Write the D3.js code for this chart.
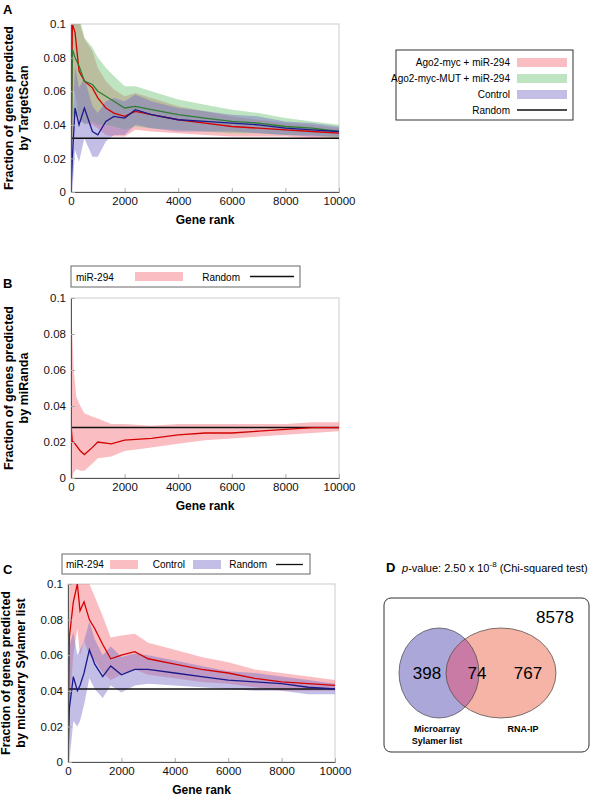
<!DOCTYPE html><html><head><meta charset="utf-8"><script src="https://cdn.jsdelivr.net/npm/d3@7"></script>
<style>body{margin:0;background:#fff}text{font-family:Arial,"Liberation Sans",sans-serif}</style></head><body>
<svg id="c" width="596" height="800"></svg>
<script>
// Panel A
const aX=[0,50,150,300,500,800,1000,1300,1600,2000,2400,3000,4000,5000,6000,7000,8000,9000,10000];
const aRed=[0,0.1,0.095,0.072,0.066,0.062,0.056,0.05,0.047,0.045,0.048,0.046,0.043,0.041,0.039,0.038,0.037,0.036,0.035];
const aRedW=[0,0.04,0.035,0.03,0.025,0.022,0.018,0.016,0.014,0.012,0.011,0.01,0.008,0.007,0.006,0.005,0.004,0.004,0.003];
const aGreen=[0,0.085,0.08,0.075,0.066,0.064,0.06,0.057,0.054,0.05,0.051,0.049,0.046,0.044,0.042,0.041,0.039,0.038,0.036];
const aGreenW=[0,0.04,0.035,0.03,0.026,0.022,0.02,0.017,0.015,0.013,0.012,0.011,0.009,0.008,0.007,0.006,0.005,0.004,0.004];
const aBlue=[0,0.02,0.05,0.04,0.05,0.036,0.034,0.042,0.045,0.044,0.049,0.046,0.043,0.042,0.041,0.04,0.038,0.037,0.036];
const aBlueW=[0,0.02,0.025,0.022,0.018,0.015,0.013,0.012,0.011,0.01,0.009,0.008,0.007,0.006,0.005,0.005,0.004,0.004,0.003];
const aRandom=0.032;
const aLegend=["Ago2-myc + miR-294","Ago2-myc-MUT + miR-294","Control","Random"];
// Panel B
const bX=[0,50,100,200,350,500,800,1000,1500,2000,3000,4000,5000,6000,7000,8000,9000,10000];
const bRed=[0.03,0.02,0.02,0.018,0.015,0.013,0.017,0.02,0.019,0.021,0.022,0.024,0.025,0.025,0.026,0.027,0.028,0.028];
const bRedHi=[0.1,0.08,0.06,0.045,0.04,0.036,0.034,0.033,0.03,0.03,0.029,0.03,0.03,0.03,0.03,0.03,0.031,0.031];
const bRedLo=[0,0,0.003,0.005,0.004,0.004,0.008,0.011,0.012,0.015,0.017,0.019,0.021,0.022,0.023,0.024,0.025,0.026];
const bRandom=0.028;
// Panel C
const cX=[0,50,200,350,450,600,800,1000,1300,1600,2000,2500,3000,4000,5000,6000,7000,8000,9000,10000];
const cRed=[0,0.07,0.09,0.1,0.085,0.09,0.08,0.075,0.066,0.058,0.06,0.062,0.058,0.055,0.052,0.05,0.047,0.045,0.044,0.043];
const cRedW=[0,0.04,0.03,0.025,0.025,0.022,0.02,0.018,0.016,0.012,0.011,0.01,0.009,0.008,0.007,0.006,0.005,0.005,0.004,0.003];
const cBlue=[0,0.03,0.048,0.04,0.043,0.05,0.063,0.055,0.048,0.054,0.049,0.052,0.052,0.05,0.048,0.046,0.045,0.044,0.042,0.041];
const cBlueW=[0,0.035,0.025,0.02,0.02,0.018,0.016,0.014,0.012,0.011,0.01,0.009,0.008,0.007,0.006,0.005,0.005,0.004,0.004,0.003];
const cRandom=0.041;
// Venn
const vennNums=[398,74,767,8578];
const vennLabels=["Microarray","Sylamer list","RNA-IP"];

const svg=d3.select("#c");
const col={red:"#d40000",green:"#2e7d32",blue:"#1a1a8c"};
const fill={red:"rgba(245,110,120,0.45)",green:"rgba(100,190,110,0.42)",blue:"rgba(120,110,200,0.45)"};

function panel(o){
  const x=d3.scaleLinear([0,10000],[o.x0,o.x1]);
  const y=d3.scaleLinear([0,0.1],[o.y1,o.y0]);
  const g=svg.append("g");
  g.append("rect").attr("x",o.x0).attr("y",o.y0).attr("width",o.x1-o.x0).attr("height",o.y1-o.y0).attr("fill","none").attr("stroke","#ccc");
  const clip="cl"+o.id;
  g.append("clipPath").attr("id",clip).append("rect").attr("x",o.x0).attr("y",o.y0).attr("width",o.x1-o.x0).attr("height",o.y1-o.y0);
  const pg=g.append("g").attr("clip-path",`url(#${clip})`);
  o.series.forEach(s=>{
    const area=d3.area().x((d,i)=>x(o.xs[i])).y0((d,i)=>y(s.lo[i])).y1((d,i)=>y(s.hi[i]));
    pg.append("path").attr("d",area(s.m)).attr("fill",fill[s.c]);
  });
  pg.append("line").attr("x1",x(0)).attr("x2",x(10000)).attr("y1",y(o.rand)).attr("y2",y(o.rand)).attr("stroke","#111").attr("stroke-width",1.5);
  o.series.forEach(s=>{
    const line=d3.line().x((d,i)=>x(o.xs[i])).y(d=>y(d));
    pg.append("path").attr("d",line(s.m)).attr("fill","none").attr("stroke",col[s.c]).attr("stroke-width",1.3);
  });
  const ax=g.append("g").attr("transform",`translate(0,${o.y1})`).call(d3.axisBottom(x).tickValues([0,2000,4000,6000,8000,10000]).tickSize(-4).tickSizeOuter(0).tickPadding(5).tickFormat(d3.format("d")));
  const ay=g.append("g").attr("transform",`translate(${o.x0},0)`).call(d3.axisLeft(y).tickValues([0,0.02,0.04,0.06,0.08,0.1]).tickSize(-4).tickSizeOuter(0).tickPadding(5).tickFormat(d=>d===0?"0":d===0.1?"0.1":d3.format(".2f")(d)));
  [ax,ay].forEach(a=>{a.selectAll("text").attr("font-size",11.5).attr("fill","#111");a.selectAll("line").attr("stroke","#aaa");a.select(".domain").attr("stroke","#555");});
  g.append("text").attr("x",(o.x0+o.x1)/2).attr("y",o.y1+32).attr("text-anchor","middle").attr("font-size",12).attr("font-weight","bold").text("Gene rank");
  const cy=(o.y0+o.y1)/2;
  const t=g.append("text").attr("transform",`translate(${o.x0-51},${cy}) rotate(-90)`).attr("text-anchor","middle").attr("font-size",12.5).attr("font-weight","bold");
  t.append("tspan").attr("x",0).attr("dy",-7).text("Fraction of genes predicted");
  t.append("tspan").attr("x",0).attr("dy",15).text(o.ylab);
  g.append("text").attr("x",3).attr("y",o.y0-10).attr("font-size",13).attr("font-weight","bold").text(o.id);
}
const band=(m,w)=>({lo:m.map((v,i)=>Math.max(0,v-w[i])),hi:m.map((v,i)=>v+w[i])});
panel({id:"A",x0:71,x1:339,y0:24,y1:192,xs:aX,rand:aRandom,ylab:"by TargetScan",series:[
  {c:"red",m:aRed,...band(aRed,aRedW)},{c:"green",m:aGreen,...band(aGreen,aGreenW)},{c:"blue",m:aBlue,...band(aBlue,aBlueW)}]});
panel({id:"B",x0:71,x1:339,y0:298,y1:478,xs:bX,rand:bRandom,ylab:"by miRanda",series:[{c:"red",m:bRed,lo:bRedLo,hi:bRedHi}]});
panel({id:"C",x0:68,x1:335,y0:584,y1:762,xs:cX,rand:cRandom,ylab:"by microarry Sylamer list",series:[
  {c:"red",m:cRed,...band(cRed,cRedW)},{c:"blue",m:cBlue,...band(cBlue,cBlueW)}]});

// Legend A
const la=svg.append("g");
la.append("rect").attr("x",396).attr("y",50).attr("width",177).attr("height",70).attr("fill","#fff").attr("stroke","#333");
aLegend.forEach((t,i)=>{
  const yy=62+i*16;
  la.append("text").attr("x",510).attr("y",yy+4).attr("text-anchor","end").attr("font-size",10).text(t);
  if(i<3) la.append("rect").attr("x",517).attr("y",yy-4).attr("width",50).attr("height",9).attr("fill",fill[["red","green","blue"][i]]);
  else la.append("line").attr("x1",517).attr("x2",567).attr("y1",yy).attr("y2",yy).attr("stroke","#111").attr("stroke-width",1.3);
});
// Legend B
const lb=svg.append("g");
lb.append("rect").attr("x",71).attr("y",266).attr("width",229).attr("height",21).attr("fill","#fff").attr("stroke","#666");
lb.append("text").attr("x",76).attr("y",281).attr("font-size",10).text("miR-294");
lb.append("rect").attr("x",135).attr("y",272).attr("width",48).attr("height",9).attr("fill",fill.red);
lb.append("text").attr("x",240).attr("y",281).attr("text-anchor","end").attr("font-size",10).text("Random");
lb.append("line").attr("x1",250).attr("x2",294).attr("y1",276.5).attr("y2",276.5).attr("stroke","#111").attr("stroke-width",1.3);
// Legend C
const lc=svg.append("g");
lc.append("rect").attr("x",62).attr("y",554).attr("width",248).attr("height",20).attr("fill","#fff").attr("stroke","#666");
lc.append("text").attr("x",66).attr("y",568).attr("font-size",10).text("miR-294");
lc.append("rect").attr("x",110).attr("y",560).attr("width",28).attr("height",9).attr("fill",fill.red);
lc.append("text").attr("x",185).attr("y",568).attr("text-anchor","end").attr("font-size",10).text("Control");
lc.append("rect").attr("x",193).attr("y",560).attr("width",28).attr("height",9).attr("fill",fill.blue);
lc.append("text").attr("x",267).attr("y",568).attr("text-anchor","end").attr("font-size",10).text("Random");
lc.append("line").attr("x1",276).attr("x2",303).attr("y1",564.5).attr("y2",564.5).attr("stroke","#111").attr("stroke-width",1.3);
// Panel D
const d=svg.append("g");
d.append("text").attr("x",386).attr("y",572).attr("font-size",13).attr("font-weight","bold").text("D");
const pt=d.append("text").attr("x",402).attr("y",572).attr("font-size",11);
pt.append("tspan").attr("font-style","italic").text("p");
pt.append("tspan").text("-value: 2.50 x 10");
pt.append("tspan").attr("dy",-5).attr("font-size",8).text("-8");
pt.append("tspan").attr("dy",5).text(" (Chi-squared test)");
d.append("rect").attr("x",384).attr("y",598).attr("width",205).attr("height",154).attr("rx",7).attr("fill","#fff").attr("stroke","#333");
const L={cx:439,cy:673,rx:40,ry:45}, R={cx:501,cy:673,rx:55,ry:45};
d.append("clipPath").attr("id","clipL").append("ellipse").attr("cx",L.cx).attr("cy",L.cy).attr("rx",L.rx).attr("ry",L.ry);
d.append("ellipse").attr("cx",L.cx).attr("cy",L.cy).attr("rx",L.rx).attr("ry",L.ry).attr("fill","#aba7d9");
d.append("ellipse").attr("cx",R.cx).attr("cy",R.cy).attr("rx",R.rx).attr("ry",R.ry).attr("fill","#f6b4a6");
d.append("ellipse").attr("clip-path","url(#clipL)").attr("cx",R.cx).attr("cy",R.cy).attr("rx",R.rx).attr("ry",R.ry).attr("fill","#c97ba6");
[L,R].forEach(e=>d.append("ellipse").attr("cx",e.cx).attr("cy",e.cy).attr("rx",e.rx).attr("ry",e.ry).attr("fill","none").attr("stroke","#444").attr("stroke-width",0.7));
[[427,vennNums[0]],[477,vennNums[1]],[528,vennNums[2]]].forEach(([xx,n])=>d.append("text").attr("x",xx).attr("y",679).attr("text-anchor","middle").attr("font-size",17).attr("font-family","DejaVu Sans").text(n));
d.append("text").attr("x",555).attr("y",623).attr("text-anchor","middle").attr("font-size",17).attr("font-family","DejaVu Sans").text(vennNums[3]);
d.append("text").attr("x",437).attr("y",732).attr("text-anchor","middle").attr("font-size",9).attr("font-weight","bold").text(vennLabels[0]);
d.append("text").attr("x",437).attr("y",744).attr("text-anchor","middle").attr("font-size",9).attr("font-weight","bold").text(vennLabels[1]);
d.append("text").attr("x",523).attr("y",732).attr("text-anchor","middle").attr("font-size",9).attr("font-weight","bold").text(vennLabels[2]);
</script></body></html>
